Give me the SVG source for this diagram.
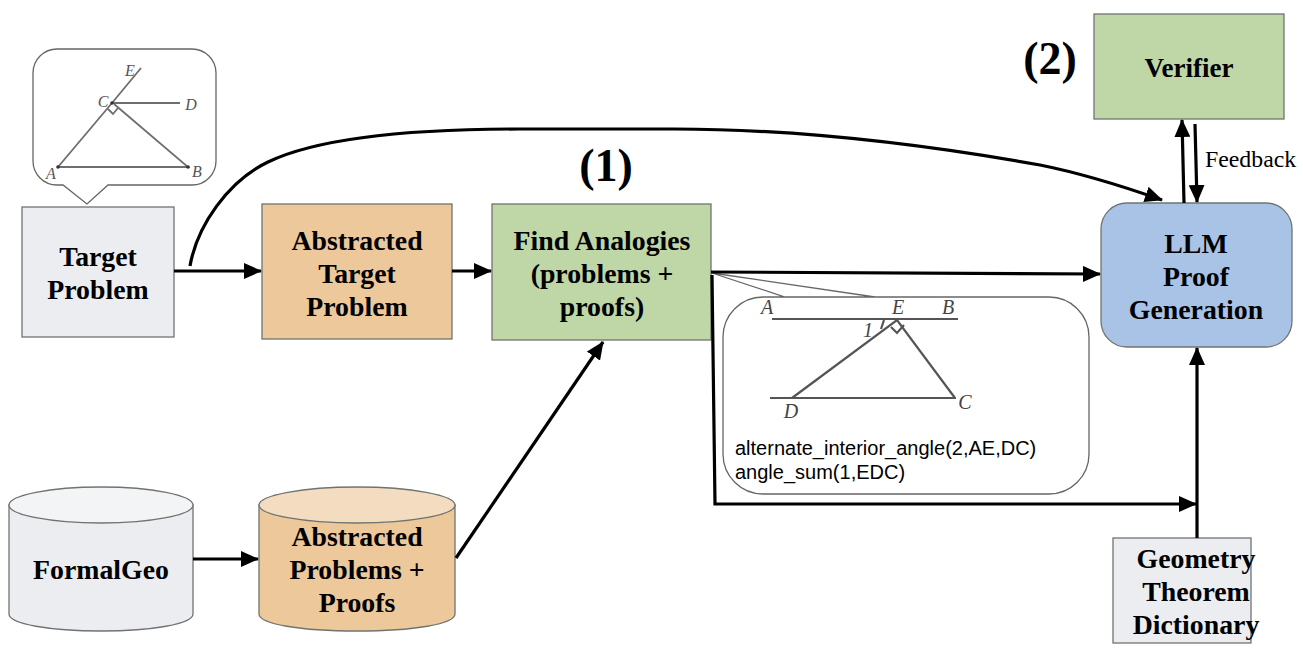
<svg xmlns="http://www.w3.org/2000/svg" width="1303" height="653" viewBox="0 0 1303 653">
<style>
.box{stroke:#6f7470;stroke-width:1.3}
.t{font-family:"Liberation Serif",serif;font-weight:bold;font-size:27.8px;fill:#000;text-anchor:middle}
.c{fill:none;stroke:#000;stroke-width:3.2}
.g{fill:none;stroke:#6e6e6e;stroke-width:1.8}
.gi{font-family:"Liberation Serif",serif;font-style:italic;font-size:16px;fill:#555;text-anchor:middle}
.gk{fill:none;stroke:#555;stroke-width:2.2}
.gl{font-family:"Liberation Serif",serif;font-style:italic;font-size:20px;fill:#444;text-anchor:middle}
.h{font-family:"Liberation Serif",serif;font-weight:bold;font-size:46px;fill:#000;text-anchor:middle}
.a{font-family:"Liberation Sans",sans-serif;font-size:20px;fill:#000}
</style>
<defs>
<marker id="ah" markerUnits="userSpaceOnUse" markerWidth="18" markerHeight="16" refX="17" refY="8" orient="auto"><path d="M0 0L18 8L0 16Z" fill="#000"/></marker>
</defs>
<g id="callout-target">
<path d="M63 185H57A24 24 0 0 1 33 161V73A24 24 0 0 1 57 49H192A24 24 0 0 1 216 73V161A24 24 0 0 1 192 185H108L87 204Z" fill="#fff" stroke="#666" stroke-width="1.3"/>
<path class="g" d="M58 167H188L114 104M112 103L58 167M112 103H180M112 103L141 68"/>
<path class="g" stroke-width="1.2" d="M108 109L113 114L118 108"/>
<circle cx="58" cy="167" r="1.8" fill="#333"/><circle cx="188" cy="167" r="1.8" fill="#333"/><circle cx="112" cy="103" r="1.8" fill="#333"/>
<text class="gi" x="51" y="179">A</text><text class="gi" x="197" y="177">B</text><text class="gi" x="103" y="107">C</text><text class="gi" x="191" y="110">D</text><text class="gi" x="130" y="76">E</text>
</g>
<g id="target-problem">
<rect class="box" x="22" y="207" width="152" height="130" fill="#ecedf0"/>
<text class="t" x="98" y="266">Target</text><text class="t" x="98" y="299">Problem</text>
</g>
<g id="abstracted-target">
<rect class="box" x="262" y="204" width="190" height="135" fill="#ecc89b"/>
<text class="t" x="357" y="250">Abstracted</text><text class="t" x="357" y="283">Target</text><text class="t" x="357" y="316">Problem</text>
</g>
<g id="find-analogies">
<rect class="box" x="492" y="204" width="219" height="136" fill="#bfd6a6"/>
<text class="t" x="602" y="250">Find Analogies</text><text class="t" x="602" y="283">(problems +</text><text class="t" x="602" y="316">proofs)</text>
</g>
<g id="callout-analogy">
<path d="M712 273L785 297H1049A40 40 0 0 1 1089 337V454A40 40 0 0 1 1049 494H763A40 40 0 0 1 723 454V337A40 40 0 0 1 763 297H785M712 273L875 297" fill="#fff" stroke="#666" stroke-width="1.3"/>
<path class="gk" d="M772 319H958M770 398H956M792 398L897 320L955 398"/>
<path class="gk" stroke-width="1.5" d="M881 329L884 320M891 327L897 333L904 325"/>
<text class="gl" x="767" y="314">A</text><text class="gl" x="898" y="314">E</text><text class="gl" x="948" y="314">B</text><text class="gl" x="868" y="337">1</text><text class="gl" x="791" y="418">D</text><text class="gl" x="965" y="409">C</text>
<text class="a" x="735" y="455">alternate_interior_angle(2,AE,DC)</text>
<text class="a" x="735" y="479">angle_sum(1,EDC)</text>
</g>
<g id="llm">
<rect class="box" x="1101" y="203" width="191" height="144" rx="26" fill="#a9c3e6"/>
<text class="t" x="1196" y="253">LLM</text><text class="t" x="1196" y="286">Proof</text><text class="t" x="1196" y="319">Generation</text>
</g>
<g id="verifier">
<rect class="box" x="1094" y="14" width="190" height="105" fill="#bfd6a6"/>
<text class="t" x="1189" y="77" style="font-size:27px">Verifier</text>
</g>
<g id="theorem-dictionary">
<rect class="box" x="1113" y="538" width="138" height="105" fill="#ecedf0"/>
<text class="t" x="1196" y="568">Geometry</text><text class="t" x="1196" y="601">Theorem</text><text class="t" x="1196" y="634">Dictionary</text>
</g>
<g id="formalgeo">
<path class="box" d="M9 505V614C9 624 50 631 101 631S193 624 193 614V505Z" fill="#ecedf0"/>
<ellipse class="box" cx="101" cy="505" rx="92" ry="18" fill="#f3f4f6"/>
<text class="t" x="101" y="579">FormalGeo</text>
</g>
<g id="abstracted-problems">
<path class="box" d="M259 505V614C259 624 300 631 357 631S455 624 455 614V505Z" fill="#ecc89b"/>
<ellipse class="box" cx="357" cy="505" rx="98" ry="18" fill="#f3dcc0"/>
<text class="t" x="357" y="546">Abstracted</text><text class="t" x="357" y="579">Problems +</text><text class="t" x="357" y="612">Proofs</text>
</g>
<g id="connectors">
<path class="c" marker-end="url(#ah)" d="M174 271H261"/>
<path class="c" marker-end="url(#ah)" d="M452 271H491"/>
<path class="c" marker-end="url(#ah)" d="M193 559H258"/>
<path class="c" marker-end="url(#ah)" d="M456 558L603 342"/>
<path class="c" marker-end="url(#ah)" d="M190 266C197 226 228 181 268 162C318 138 410 129 520 129H674C780 129 900 140 1040 165C1085 174 1125 187 1162 200"/>
<path class="c" marker-end="url(#ah)" d="M711 272L1100 274"/>
<path class="c" marker-end="url(#ah)" d="M712 275L715 504H1196"/>
<path class="c" marker-end="url(#ah)" d="M1197 538V348"/>
<path class="c" marker-end="url(#ah)" d="M1184 203L1182 120"/>
<path class="c" marker-end="url(#ah)" d="M1195 124L1197 202"/>
</g>
<g id="labels">
<text class="h" x="606" y="181">(1)</text>
<text class="h" x="1050" y="74">(2)</text>
<text x="1205" y="167" font-family="'Liberation Serif',serif" font-size="23.8" fill="#000">Feedback</text>
</g>
</svg>
